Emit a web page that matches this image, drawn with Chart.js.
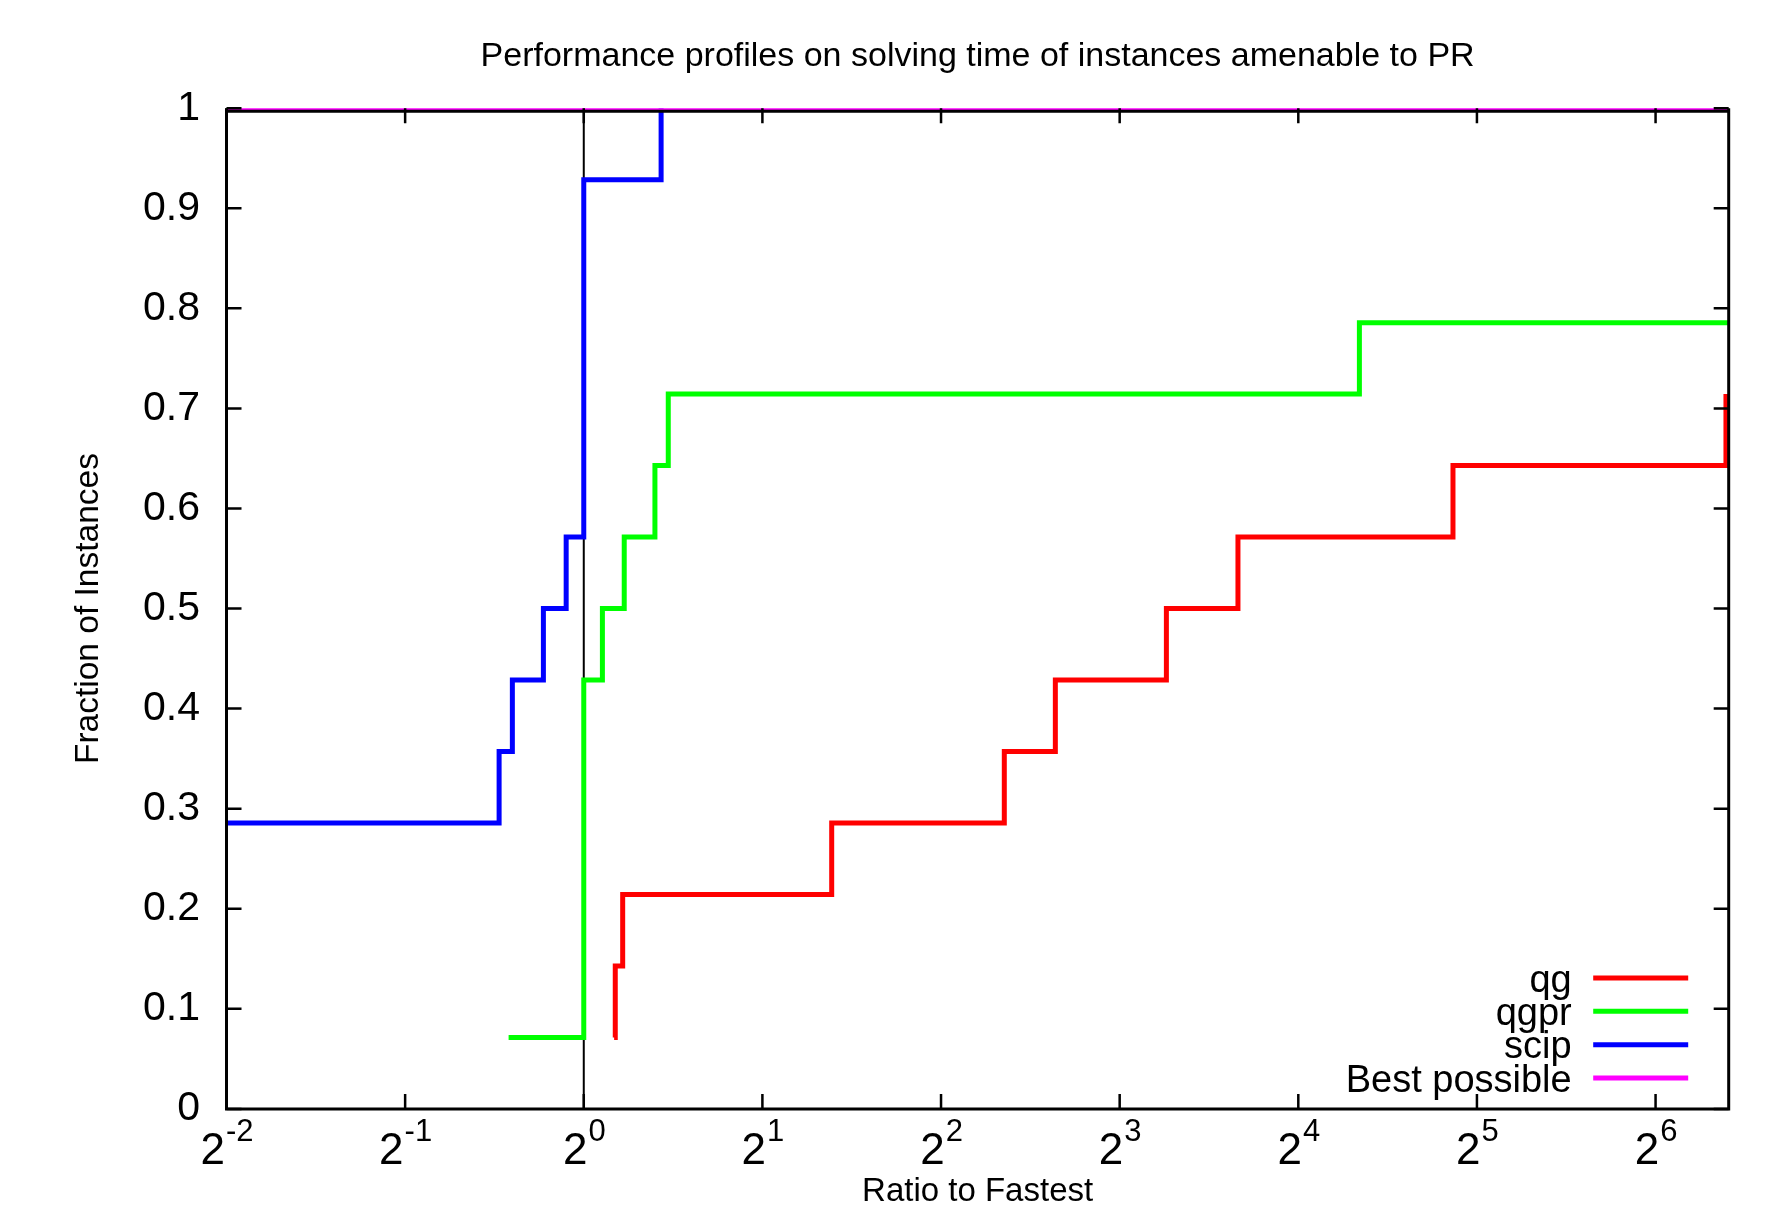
<!DOCTYPE html>
<html><head><meta charset="utf-8">
<script src="https://cdn.jsdelivr.net/npm/chart.js@4/dist/chart.umd.min.js"></script>
<style>html,body{margin:0;padding:0;background:#fff;overflow:hidden}#wrap{width:1767px;height:1208px;position:relative}</style>
</head><body><div id="wrap"><canvas id="c" width="1767" height="1208"></canvas></div>
<script>
// ---- text ----
const titleText = "Performance profiles on solving time of instances amenable to PR";
const xAxisTitle = "Ratio to Fastest";
const yAxisTitle = "Fraction of Instances";
const seriesNames = ["qg", "qgpr", "scip", "Best possible"];
const seriesColors = ["#ff0000", "#00ff00", "#0000ff", "#ff00ff"];

// ---- data (ratio to fastest, fraction of instances) ----
const qgRatio   = [1.125, 1.13, 1.163, 2.617, 5.113, 6.233, 9.59, 12.66, 29.16, 84.1];
const qgFrac    = [0.0714, 0.1429, 0.2143, 0.2857, 0.3571, 0.4286, 0.5, 0.5714, 0.6429, 0.7143];
const qgprRatio = [0.747, 1.0, 1.075, 1.170, 1.318, 1.388, 20.28, 85];
const qgprFrac  = [0.0714, 0.4286, 0.5, 0.5714, 0.6429, 0.7143, 0.7857, 0.7857];
const scipRatio = [0.25, 0.720, 0.758, 0.855, 0.934, 1.0, 1.35];
const scipFrac  = [0.2857, 0.3571, 0.4286, 0.5, 0.5714, 0.9286, 1.0];
const bestRatio = [0.25, 85];
const bestFrac  = [1.0, 1.0];
const refRatio  = [1, 1];
const refFrac   = [0, 1];

// ---- axes ----
const xMin = 0.25, xMax = 85;
const xTickValues = [0.25, 0.5, 1, 2, 4, 8, 16, 32, 64];
const xTickBase = "2";
const xTickExponents = ["-2", "-1", "0", "1", "2", "3", "4", "5", "6"];
const yTickValues = [0, 0.1, 0.2, 0.3, 0.4, 0.5, 0.6, 0.7, 0.8, 0.9, 1];
const yTickLabels = ["0", "0.1", "0.2", "0.3", "0.4", "0.5", "0.6", "0.7", "0.8", "0.9", "1"];

const FAM = '"Liberation Sans", Arial, Helvetica, sans-serif';
const pts = (xs, ys) => xs.map((x, i) => ({x: x, y: ys[i]}));

const seriesData = [pts(qgRatio, qgFrac), pts(qgprRatio, qgprFrac), pts(scipRatio, scipFrac), pts(bestRatio, bestFrac)];
const datasets = seriesData.map((d, i) => ({
  label: seriesNames[i], data: d, borderColor: seriesColors[i], backgroundColor: seriesColors[i],
  borderWidth: 5, pointRadius: 0, stepped: 'before', fill: false, order: 4 - i,
  borderCapStyle: 'butt', borderJoinStyle: 'miter'
}));
datasets.push({label: '', data: pts(refRatio, refFrac), borderColor: '#000', borderWidth: 2, pointRadius: 0, order: 10, fill: false});

const framePlugin = {
  id: 'frame',
  afterDatasetsDraw(chart) {
    const {ctx, chartArea: a, scales} = chart;
    const xs = scales.x, ys = scales.y;
    ctx.save();
    ctx.strokeStyle = '#000'; ctx.lineWidth = 2.5; ctx.lineCap = 'butt';
    const tl = 15;
    ctx.beginPath();
    yTickValues.forEach(v => {
      const y = ys.getPixelForValue(v);
      ctx.moveTo(a.left, y); ctx.lineTo(a.left + tl, y);
      ctx.moveTo(a.right, y); ctx.lineTo(a.right - tl, y);
    });
    xTickValues.forEach(v => {
      const x = xs.getPixelForValue(v);
      ctx.moveTo(x, a.bottom); ctx.lineTo(x, a.bottom - tl);
      ctx.moveTo(x, a.top); ctx.lineTo(x, a.top + tl);
    });
    ctx.stroke();
    ctx.lineWidth = 3;
    ctx.beginPath();
    ctx.moveTo(a.left, a.top + 3); ctx.lineTo(a.right, a.top + 3);
    ctx.moveTo(a.right, a.top); ctx.lineTo(a.right, a.bottom);
    ctx.moveTo(a.right + 1.5, a.bottom); ctx.lineTo(a.left - 1.5, a.bottom);
    ctx.moveTo(a.left, a.bottom); ctx.lineTo(a.left, a.top);
    ctx.stroke();
    ctx.restore();
  },
  afterDraw(chart) {
    const {ctx, chartArea: a, scales} = chart;
    const xs = scales.x;
    ctx.save();
    ctx.fillStyle = '#000';
    const mainSize = 44, expSize = 31;
    xTickValues.forEach((v, i) => {
      const px = xs.getPixelForValue(v);
      ctx.font = mainSize + 'px ' + FAM;
      const w1 = ctx.measureText(xTickBase).width;
      ctx.font = expSize + 'px ' + FAM;
      const w2 = ctx.measureText(xTickExponents[i]).width;
      const x0 = px - (w1 + w2) / 2;
      ctx.textAlign = 'left'; ctx.textBaseline = 'alphabetic';
      ctx.font = mainSize + 'px ' + FAM;
      ctx.fillText(xTickBase, x0, a.bottom + 55);
      ctx.font = expSize + 'px ' + FAM;
      ctx.fillText(xTickExponents[i], x0 + w1 + 1, a.bottom + 32);
    });
    const lf = 38;
    ctx.font = lf + 'px ' + FAM;
    ctx.textAlign = 'right'; ctx.textBaseline = 'alphabetic';
    const n = seriesNames.length;
    seriesNames.forEach((name, i) => {
      const rowY = a.bottom - 30.8 - (n - 1 - i) * 33.4;
      ctx.fillStyle = '#000';
      ctx.fillText(name, a.right - 157, rowY + 0.36 * lf);
      ctx.strokeStyle = seriesColors[i]; ctx.lineWidth = 5;
      ctx.beginPath(); ctx.moveTo(a.right - 135.5, rowY); ctx.lineTo(a.right - 40.5, rowY); ctx.stroke();
    });
    ctx.restore();
  }
};

new Chart(document.getElementById('c'), {
  type: 'line',
  data: {datasets},
  plugins: [framePlugin],
  options: {
    responsive: false, animation: false, events: [],
    layout: {padding: {left: 0, right: 38.3, top: 0, bottom: 0}},
    plugins: {
      legend: {display: false}, tooltip: {enabled: false},
      title: {display: true, text: titleText, fullSize: false, color: '#000',
        font: {family: FAM, size: 34, weight: 'normal', lineHeight: 1},
        padding: {top: 40, bottom: 34.2}}
    },
    scales: {
      x: {
        type: 'logarithmic', min: xMin, max: xMax,
        afterBuildTicks: s => { s.ticks = xTickValues.map(v => ({value: v})); },
        afterFit: s => { s.height = 99.1; },
        grid: {display: false, drawTicks: false}, border: {display: false},
        ticks: {display: false},
        title: {display: true, text: xAxisTitle, color: '#000', font: {family: FAM, size: 33, lineHeight: 1}, padding: {top: 0, bottom: 0}}
      },
      y: {
        type: 'linear', min: 0, max: 1,
        afterBuildTicks: s => { s.ticks = yTickValues.map(v => ({value: v})); },
        afterFit: s => { s.width = 226.5; },
        grid: {display: false, drawTicks: false}, border: {display: false},
        ticks: {color: '#000', padding: 26.5, font: {family: FAM, size: 41},
          callback: (v, i) => yTickLabels[i]},
        title: {display: true, text: yAxisTitle, color: '#000', font: {family: FAM, size: 33.5, lineHeight: 1}, padding: {top: 72, bottom: 0}}
      }
    }
  }
});
</script></body></html>
